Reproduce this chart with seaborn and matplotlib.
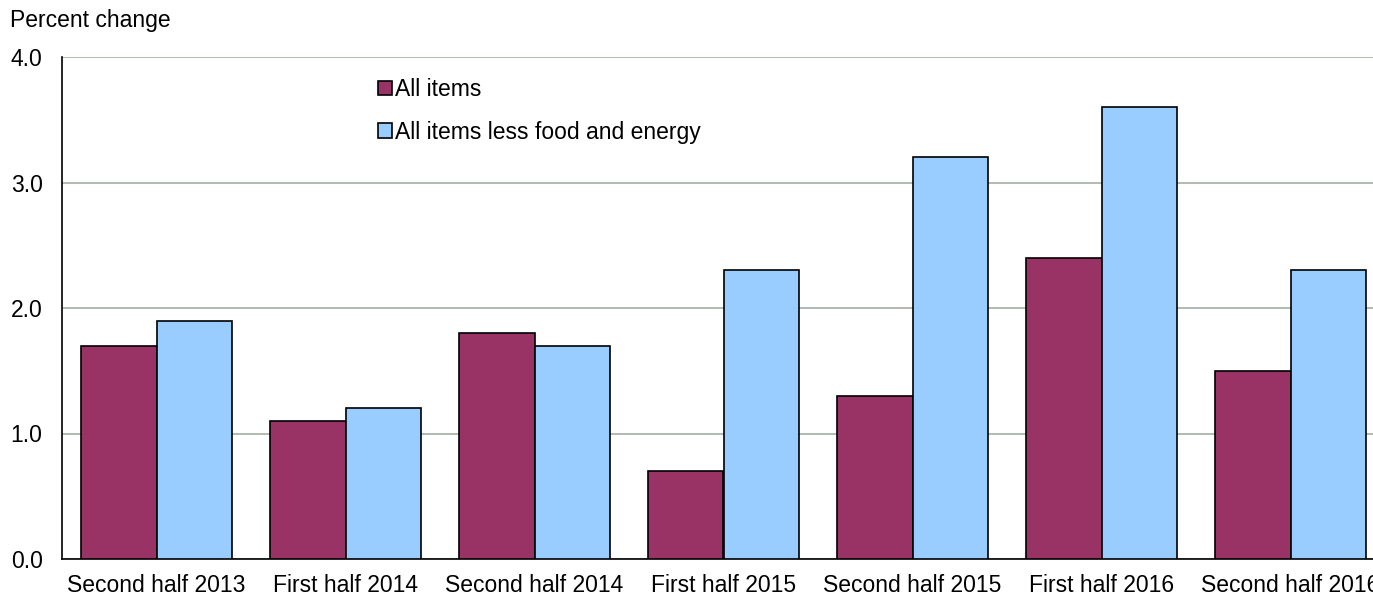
import pandas as pd
import matplotlib.pyplot as plt
import seaborn as sns

periods = ["Second half 2013", "First half 2014", "Second half 2014",
           "First half 2015", "Second half 2015", "First half 2016",
           "Second half 2016"]
all_items = [1.7, 1.1, 1.8, 0.7, 1.3, 2.4, 1.5]
core_items = [1.9, 1.2, 1.7, 2.3, 3.2, 3.6, 2.3]
series_names = ["All items", "All items less food and energy"]
COLORS = ["#993366", "#99ccff"]

sns.set_theme(style="white")
plt.rcParams["font.family"] = ["Liberation Sans", "DejaVu Sans"]
plt.rcParams["text.color"] = "black"
plt.rcParams["xtick.color"] = "black"
plt.rcParams["ytick.color"] = "black"

df = pd.DataFrame({
    "period": periods * 2,
    "value": all_items + core_items,
    "series": [series_names[0]] * len(periods) + [series_names[1]] * len(periods),
})

fig = plt.figure(figsize=(13.73, 5.96), dpi=100)
ax = fig.add_axes([62 / 1373, 37 / 596, 1323 / 1373, 502 / 596])

sns.barplot(data=df, x="period", y="value", hue="series", palette=COLORS,
            width=0.8, edgecolor="black", linewidth=1.2, saturation=1,
            ax=ax, zorder=3)

FS = 16.5
ax.set_xlim(-0.5, 6.5)
ax.set_ylim(0, 4)
ax.set_yticks([0, 1, 2, 3, 4])
ax.set_yticklabels([f"{v:.1f}" for v in [0, 1, 2, 3, 4]], fontsize=FS)
ax.tick_params(axis="x", labelsize=FS, pad=11, length=0)
ax.tick_params(axis="y", pad=14, length=0)
ax.set_xlabel("")
ax.set_ylabel("")
ax.yaxis.grid(True, color="#a3b0a3", linewidth=1.2, zorder=0)
ax.set_axisbelow(True)

for side in ["top", "right"]:
    ax.spines[side].set_visible(False)
for side in ["left", "bottom"]:
    ax.spines[side].set_color("black")
    ax.spines[side].set_linewidth(1.2)

fig.text(10 / 1373, 1 - 21 / 596, "Percent change", fontsize=FS,
         va="center", ha="left")

leg = ax.legend(loc="upper left", bbox_to_anchor=(307 / 1323, 490 / 502),
                frameon=False, fontsize=FS, handlelength=0.6, handleheight=0.6,
                handletextpad=0.15, labelspacing=0.85, borderaxespad=0)

fig.savefig("out.png", dpi=100)
